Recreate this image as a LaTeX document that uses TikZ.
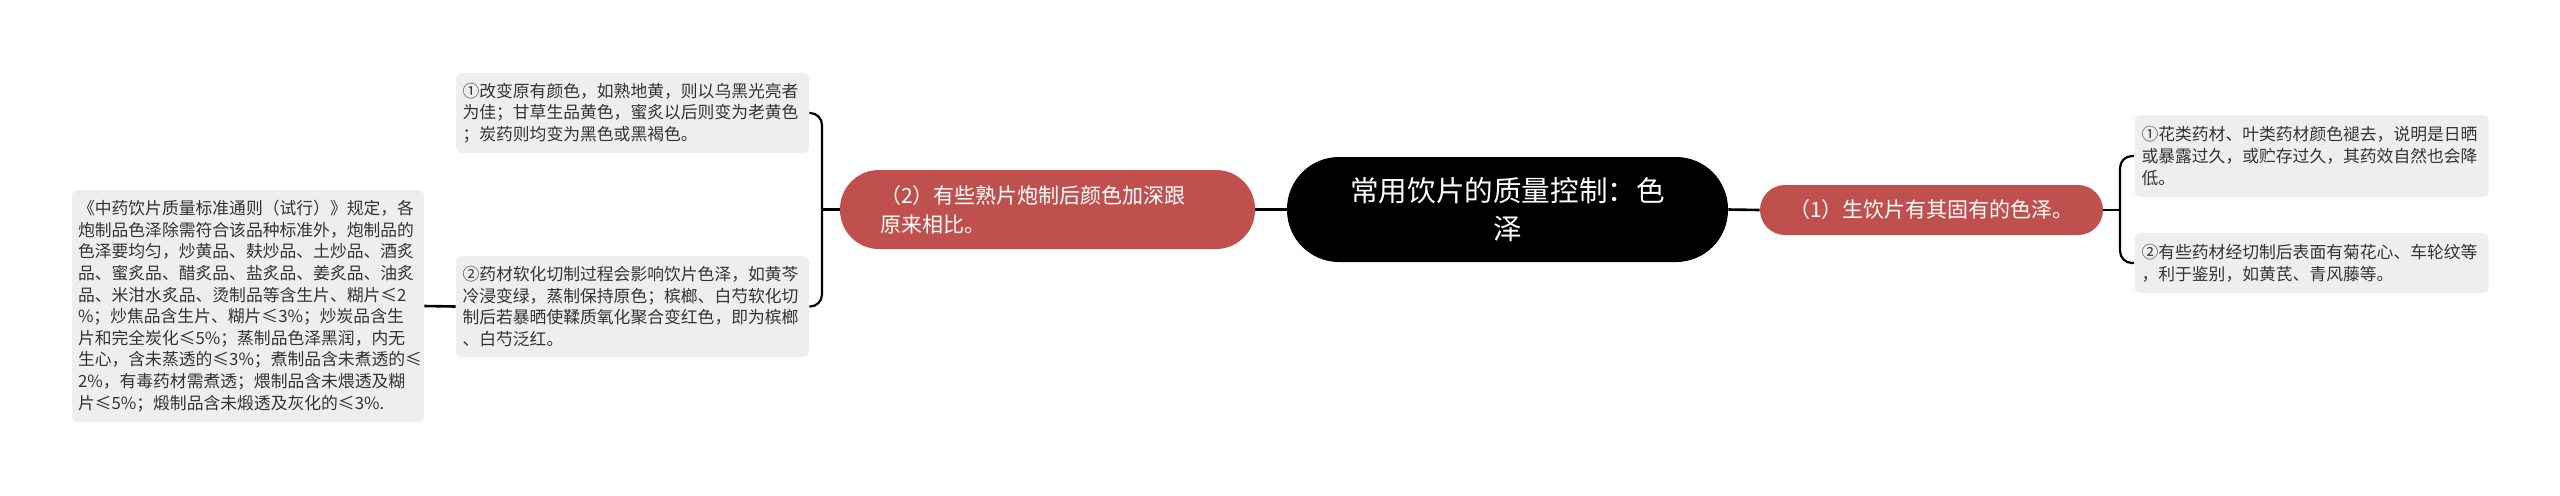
\documentclass[tikz,border=0pt]{standalone}
\usepackage{fontspec}
\newfontfamily\cjk{Noto Sans CJK SC}
\definecolor{redn}{HTML}{C0504D}
\definecolor{leafbg}{HTML}{EEEEEE}
\definecolor{leaftx}{HTML}{333333}
\tikzset{
  leaf/.style={draw=none, fill=leafbg, rounded corners=3pt, text=leaftx,
    font={\cjk\fontsize{8.4pt}{10.8pt}\selectfont}, align=left,
    text width=170pt, inner xsep=3.25pt, inner ysep=0pt},
  rednode/.style={fill=redn, text=white, font={\cjk\fontsize{10.5pt}{14.5pt}\selectfont},
    inner sep=0pt},
  mainnode/.style={fill=black, text=white, font={\cjk\fontsize{14.3pt}{19pt}\selectfont},
    inner sep=0pt, align=center, minimum width=220.5pt, minimum height=52.5pt, rounded corners=26pt},
  mainline/.style={line width=1.3pt, black},
  brline/.style={line width=1.1pt, black, rounded corners=6pt}
}
\begin{document}
\begin{tikzpicture}[x=0.5pt, y=-0.5pt]
\useasboundingbox (0,0) rectangle (2560,495);

\node[mainnode] (C) at (1507.5,209.5) {常用饮片的质量控制：色\\泽};

\node[rednode, minimum width=207.5pt, minimum height=39.5pt, rounded corners=19.5pt,
  text width=167.5pt, align=left] (L) at (1047.5,209.5)
  {（2）有些熟片炮制后颜色加深跟\\原来相比。};

\node[rednode, minimum width=171.5pt, minimum height=25pt, rounded corners=12.5pt,
  align=center] (R) at (1931.5,210) {（1）生饮片有其固有的色泽。};

\node[leaf, minimum height=40pt] (La) at (632.5,113)
  {①改变原有颜色，如熟地黄，则以乌黑光亮者\\为佳；甘草生品黄色，蜜炙以后则变为老黄色\\；炭药则均变为黑色或黑褐色。};

\node[leaf, minimum height=50.5pt] (Lb) at (632.5,306.5)
  {②药材软化切制过程会影响饮片色泽，如黄芩\\冷浸变绿，蒸制保持原色；槟榔、白芍软化切\\制后若暴晒使鞣质氧化聚合变红色，即为槟榔\\、白芍泛红。};

\node[leaf, minimum height=116pt, text width=170pt, inner xsep=3pt] (LL) at (248,306)
  {《中药饮片质量标准通则（试行）》规定，各\\炮制品色泽除需符合该品种标准外，炮制品的\\色泽要均匀，炒黄品、麸炒品、土炒品、酒炙\\品、蜜炙品、醋炙品、盐炙品、姜炙品、油炙\\品、米泔水炙品、烫制品等含生片、糊片≤2\\\%；炒焦品含生片、糊片≤3\%；炒炭品含生\\片和完全炭化≤5\%；蒸制品色泽黑润，内无\\生心，含未蒸透的≤3\%；煮制品含未煮透的≤\\2\%，有毒药材需煮透；煨制品含未煨透及糊\\片≤5\%；煅制品含未煅透及灰化的≤3\%.};

\node[leaf, minimum height=41pt, inner xsep=3.5pt] (Ra) at (2311.5,156)
  {①花类药材、叶类药材颜色褪去，说明是日晒\\或暴露过久，或贮存过久，其药效自然也会降\\低。};

\node[leaf, minimum height=30pt, inner xsep=3.5pt] (Rb) at (2311.5,263)
  {②有些药材经切制后表面有菊花心、车轮纹等\\，利于鉴别，如黄芪、青风藤等。};

\coordinate (mL) at (822,209.5);
\coordinate (mR) at (2120,210);

\draw[mainline] (C.west) -- (L.east);
\draw[mainline] (C.east) -- (R.west);
\draw[mainline] (L.west) -- (mL);
\draw[mainline] (R.east) -- (mR);
\draw[brline] (mL) |- (La.east);
\draw[brline] (mL) |- (Lb.east);
\draw[brline] (mR) |- (Ra.west);
\draw[brline] (mR) |- (Rb.west);
\draw[mainline] (LL.east) -- (Lb.west);
\end{tikzpicture}
\end{document}
